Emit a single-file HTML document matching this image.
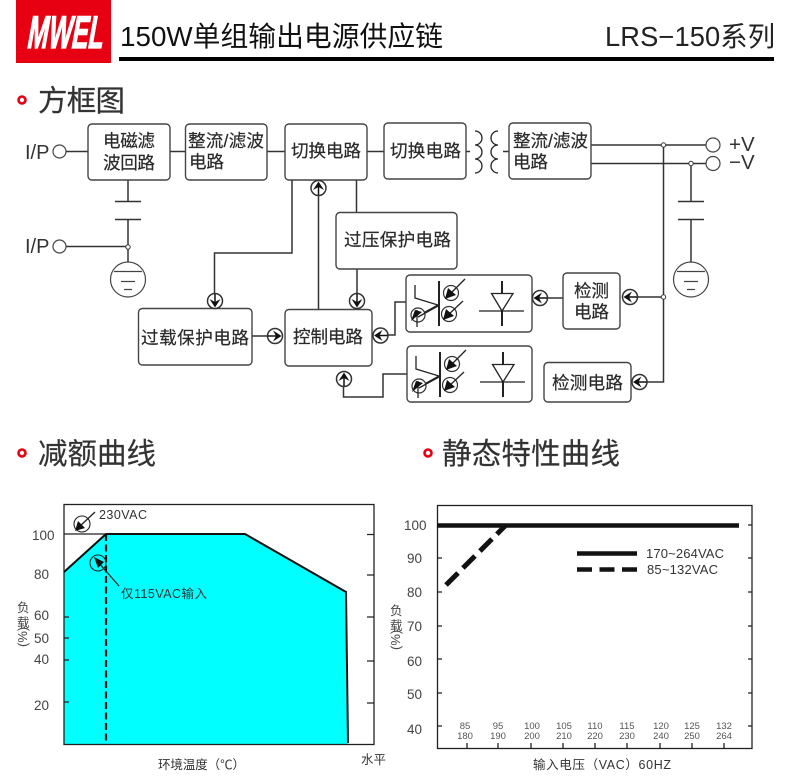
<!DOCTYPE html>
<html><head><meta charset="utf-8"><style>
html,body{margin:0;padding:0;background:#fff;width:790px;height:781px;overflow:hidden}
svg{display:block}
text{font-family:"Liberation Sans","Noto Sans CJK SC",sans-serif;fill:#333}
.b{font-size:17.600px;fill:#2a2a2a;stroke:#2a2a2a;stroke-width:.2px}
.box{fill:#fff;stroke:#444;stroke-width:1.400}
.l{fill:none;stroke:#333;stroke-width:1.500}
.k{fill:none;stroke:#222;stroke-width:1.300}
.n{font-size:13.500px;fill:#444}
.h{font-size:29.500px;fill:#333;stroke:#333;stroke-width:.2px}
.tk{stroke:#222;stroke-width:1.300;fill:none}
.s{font-size:9.500px;fill:#555;text-anchor:middle}
</style></head><body>
<svg width="790" height="781" viewBox="0 0 790 781" xmlns="http://www.w3.org/2000/svg">
<defs>
<g id="ar"><circle r="7.500" fill="#fff" stroke="#333" stroke-width="1.500"/><path d="M0 7V-4" stroke="#111" stroke-width="1.500"/><path d="M0-6.500 L5.500 2 L0-1 L-5.500 2Z" fill="#111"/></g>
<g id="gnd"><circle r="17.500" fill="#fff" stroke="#444" stroke-width="1.200"/><path d="M-14-8H14M-7 2H7M-4 10H4" stroke="#444" stroke-width="1.200"/></g>
<g id="opto">
<path d="M33 6V51" stroke="#222" stroke-width="2"/>
<path d="M9 10V23L32 30 12 41" class="k"/>
<circle cx="12" cy="40" r="7" fill="#fff" stroke="#333" stroke-width="1.200"/>
<path d="M11 35V52" class="k"/><path d="M16 37 L5 46 9 35Z" fill="#111"/>
<path d="M12 42 L32 31" class="k"/>
<circle cx="45" cy="18" r="7.500" fill="none" stroke="#333" stroke-width="1.200"/>
<path d="M59 4 L43 20" class="k"/><path d="M39 24 L42 13 50 20Z" fill="#111"/>
<circle cx="43" cy="39" r="7.500" fill="none" stroke="#333" stroke-width="1.200"/>
<path d="M57 26 L41 41" class="k"/><path d="M37 45 L40 34 48 41Z" fill="#111"/>
<path d="M96 6V18M96 36V51" stroke="#222" stroke-width="2"/>
<path d="M85.500 18.500H107L96 36Z" fill="none" stroke="#222" stroke-width="1.300"/>
<path d="M73 36H118" class="k"/>
</g>
</defs>

<!-- header -->
<rect x="16" y="0" width="95" height="63" fill="#e60012"/>
<text transform="translate(26,48) skewX(-10) scale(1,1.350)" x="0" y="0" textLength="76" lengthAdjust="spacingAndGlyphs" style="font-size:34px;font-weight:bold;fill:#fff;stroke:#fff;stroke-width:1px;font-family:'Liberation Sans',sans-serif">MWEL</text>
<rect x="119" y="57" width="655" height="4" fill="#000"/>
<text x="120" y="46" textLength="323" style="font-size:27.800px;fill:#111">150W单组输出电源供应链</text>
<text x="605" y="46" textLength="170" style="font-size:27.300px;fill:#222">LRS−150系列</text>

<!-- section headings -->
<circle cx="22" cy="100" r="3.500" fill="none" stroke="#e60012" stroke-width="2.600"/>
<text class="h" x="38" y="111" textLength="87">方框图</text>
<circle cx="22" cy="453" r="3.500" fill="none" stroke="#e60012" stroke-width="2.600"/>
<text class="h" x="38" y="464" textLength="118">减额曲线</text>
<circle cx="428" cy="453" r="3.500" fill="none" stroke="#e60012" stroke-width="2.600"/>
<text class="h" x="442" y="464" textLength="178">静态特性曲线</text>

<!-- wires -->
<path class="l" d="M66 151.500H88M170 151.500H185.500M267 151.500H285M367 151.500H384M466 151.500H470M503 151.500H509"/>
<path class="l" d="M128 180V201.500M115 201.500H141M115 219.500H141M128 219.500V262M66 246.500H128"/>
<path class="l" d="M591 145H706M591 163.500H706M663.500 145V382H647M663.500 297H638M691 163.500V201.500M678 201.500H704M678 219.500H704M691 219.500V262"/>
<path class="l" d="M292 180V253H214.500V294M356.500 180V212M318.500 195V309M357 269V294M252 336H268M388 335H395V302H406M407 374H383V397H343.500V386M548 298H563"/>

<!-- transformer -->
<path class="k" d="M475 131A7 7 0 1 1 475 145A7 7 0 1 1 475 159A7 7 0 1 1 475 173"/>
<path class="k" d="M498 131A7 7 0 1 0 498 145A7 7 0 1 0 498 159A7 7 0 1 0 498 173"/>

<!-- terminals -->
<text x="25" y="159" style="font-size:20px">I/P</text>
<text x="25" y="253" style="font-size:20px">I/P</text>
<circle cx="59.500" cy="151.500" r="6.500" fill="#fff" stroke="#444" stroke-width="1.200"/>
<circle cx="59.500" cy="246.500" r="6.500" fill="#fff" stroke="#444" stroke-width="1.200"/>
<circle cx="713" cy="145" r="7" fill="#fff" stroke="#444" stroke-width="1.200"/>
<circle cx="713" cy="163.500" r="7" fill="#fff" stroke="#444" stroke-width="1.200"/>
<text x="729" y="151" style="font-size:20.500px">+V</text>
<text x="729" y="169" style="font-size:20.500px">−V</text>
<use href="#gnd" x="128" y="279.500"/>
<use href="#gnd" x="691" y="279.500"/>
<g fill="#fff" stroke="#333" stroke-width="1"><circle cx="128" cy="247" r="2.200"/><circle cx="663.500" cy="145" r="2.200"/><circle cx="691" cy="163.500" r="2.200"/><circle cx="663.500" cy="297" r="2.200"/></g>

<!-- boxes -->
<rect class="box" x="88" y="124" width="82" height="56" rx="4"/>
<rect class="box" x="185.500" y="124" width="81.500" height="56" rx="4"/>
<rect class="box" x="285" y="124" width="82" height="56" rx="4"/>
<rect class="box" x="384" y="123" width="82" height="56" rx="4"/>
<rect class="box" x="509" y="123" width="82" height="56" rx="4"/>
<rect class="box" x="336" y="212.500" width="121" height="56.500" rx="4"/>
<rect class="box" x="138.500" y="308.500" width="113.500" height="56.500" rx="4"/>
<rect class="box" x="285" y="309.500" width="87" height="56.500" rx="4"/>
<rect class="box" x="406" y="275" width="126" height="57" rx="4"/>
<rect class="box" x="407" y="346" width="125" height="56" rx="4"/>
<rect class="box" x="563" y="273" width="57" height="56" rx="4"/>
<rect class="box" x="544" y="362.500" width="87" height="39.500" rx="4"/>

<text class="b" x="103" y="147" textLength="52">电磁滤</text>
<text class="b" x="103" y="169" textLength="52">波回路</text>
<text class="b" x="188" y="147" textLength="76">整流/滤波</text>
<text class="b" x="189" y="168" textLength="35">电路</text>
<text class="b" x="291" y="157" textLength="70">切换电路</text>
<text class="b" x="390" y="157" textLength="71">切换电路</text>
<text class="b" x="513" y="147" textLength="75">整流/滤波</text>
<text class="b" x="513" y="168" textLength="35">电路</text>
<text class="b" x="344" y="246" textLength="107">过压保护电路</text>
<text class="b" x="141" y="344" textLength="108">过载保护电路</text>
<text class="b" x="293" y="343" textLength="70">控制电路</text>
<text class="b" x="574" y="297" textLength="35">检测</text>
<text class="b" x="574" y="318" textLength="35">电路</text>
<text class="b" x="552" y="389" textLength="71">检测电路</text>

<!-- arrow badges -->
<use href="#ar" transform="translate(318.500,188)"/>
<use href="#ar" transform="translate(215,301) rotate(180)"/>
<use href="#ar" transform="translate(357,301) rotate(180)"/>
<use href="#ar" transform="translate(275,336) rotate(90)"/>
<use href="#ar" transform="translate(380.500,335.500) rotate(-90)"/>
<use href="#ar" transform="translate(344,379)"/>
<use href="#ar" transform="translate(540,298) rotate(-90)"/>
<use href="#ar" transform="translate(630,297) rotate(-90)"/>
<use href="#ar" transform="translate(639.500,382) rotate(-90)"/>
<use href="#opto" x="406" y="275"/>
<use href="#opto" x="407" y="346"/>

<!-- left chart -->
<path d="M64 572L106 534H245L346 592L348 744H64Z" fill="#00ffff"/>
<rect x="64" y="504.500" width="310" height="240" fill="none" stroke="#222" stroke-width="1.300"/>
<path d="M64 572L106 534H245L346 592L348 743" fill="none" stroke="#111" stroke-width="2"/>
<path d="M64 534H106" stroke="#222" stroke-width="1.300"/>
<path d="M106 534V744" stroke="#111" stroke-width="2.200" stroke-dasharray="7 3.500"/>
<path class="tk" d="M64 617H69M64 638H69M64 660H69M64 702H69M367 534.500H374M367 575H374M367 617H374M367 661H374M367 703H374"/>
<circle cx="82" cy="524" r="8" fill="none" stroke="#222" stroke-width="1.100"/>
<path d="M95 512L79 527" class="k"/><path d="M75 531L78 521 85 528Z" fill="#111"/>
<circle cx="98" cy="563" r="8" fill="none" stroke="#222" stroke-width="1.100"/>
<path d="M119 586L98 562" class="k"/><path d="M94 557L104 562 98 568Z" fill="#111"/>
<text x="99" y="519" textLength="48" style="font-size:12.500px;fill:#333">230VAC</text>
<text x="121" y="598" textLength="86" style="font-size:12.500px;fill:#333">仅115VAC输入</text>
<text class="n" x="32" y="540">100</text>
<text class="n" x="34" y="579">80</text>
<text class="n" x="34" y="620">60</text>
<text class="n" x="34" y="643">50</text>
<text class="n" x="34" y="664">40</text>
<text class="n" x="34" y="710">20</text>
<text x="17" y="612" style="font-size:12.500px;fill:#444">负</text>
<text x="17" y="627" style="font-size:12.500px;fill:#444">载</text>
<text transform="translate(27,647) rotate(-90)" style="font-size:13px;fill:#444">(%)</text>
<text x="158" y="769" textLength="87" style="font-size:12.500px;fill:#333">环境温度（℃）</text>
<text x="361" y="764" textLength="25" style="font-size:12.500px;fill:#333">水平</text>

<!-- right chart -->
<rect x="437.500" y="505.500" width="314.500" height="243" fill="none" stroke="#222" stroke-width="1.300"/>
<path d="M437 525.500H739" stroke="#111" stroke-width="4.500"/>
<path d="M446 585L505 526" stroke="#111" stroke-width="5" stroke-dasharray="17 7"/>
<path d="M577 553.500H637" stroke="#111" stroke-width="4.500"/>
<path d="M577 569.500H637" stroke="#111" stroke-width="4.500" stroke-dasharray="15 7.500"/>
<text x="646" y="558" textLength="78" style="font-size:13px;fill:#333">170~264VAC</text>
<text x="647" y="574" textLength="71" style="font-size:13px;fill:#333">85~132VAC</text>
<path class="tk" d="M437 558H442M437 592H442M437 626H442M437 659H442M437 693H442M437 726H442M748 525H752M748 558H752M748 592H752M748 626H752M748 659H752M748 693H752M748 726H752M467 743V748M498 743V748M531 743V748M563 743V748M595 743V748M627 743V748M660 743V748M692 743V748M724 743V748"/>
<text class="n" x="404" y="530">100</text>
<text class="n" x="407" y="563">90</text>
<text class="n" x="407" y="597">80</text>
<text class="n" x="407" y="631">70</text>
<text class="n" x="407" y="666">60</text>
<text class="n" x="407" y="699">50</text>
<text class="n" x="407" y="734">40</text>
<text x="390" y="615" style="font-size:12.500px;fill:#444">负</text>
<text x="390" y="630" style="font-size:12.500px;fill:#444">载</text>
<text transform="translate(400,650) rotate(-90)" style="font-size:13px;fill:#444">(%)</text>
<g>
<text class="s" x="465" y="729">85</text><text class="s" x="465" y="739">180</text>
<text class="s" x="498" y="729">95</text><text class="s" x="498" y="739">190</text>
<text class="s" x="532" y="729">100</text><text class="s" x="532" y="739">200</text>
<text class="s" x="564" y="729">105</text><text class="s" x="564" y="739">210</text>
<text class="s" x="595" y="729">110</text><text class="s" x="595" y="739">220</text>
<text class="s" x="627" y="729">115</text><text class="s" x="627" y="739">230</text>
<text class="s" x="661" y="729">120</text><text class="s" x="661" y="739">240</text>
<text class="s" x="692" y="729">125</text><text class="s" x="692" y="739">250</text>
<text class="s" x="724" y="729">132</text><text class="s" x="724" y="739">264</text>
</g>
<text x="533" y="769" textLength="138" style="font-size:12.500px;fill:#333">输入电压（VAC）60HZ</text>
</svg>
</body></html>
